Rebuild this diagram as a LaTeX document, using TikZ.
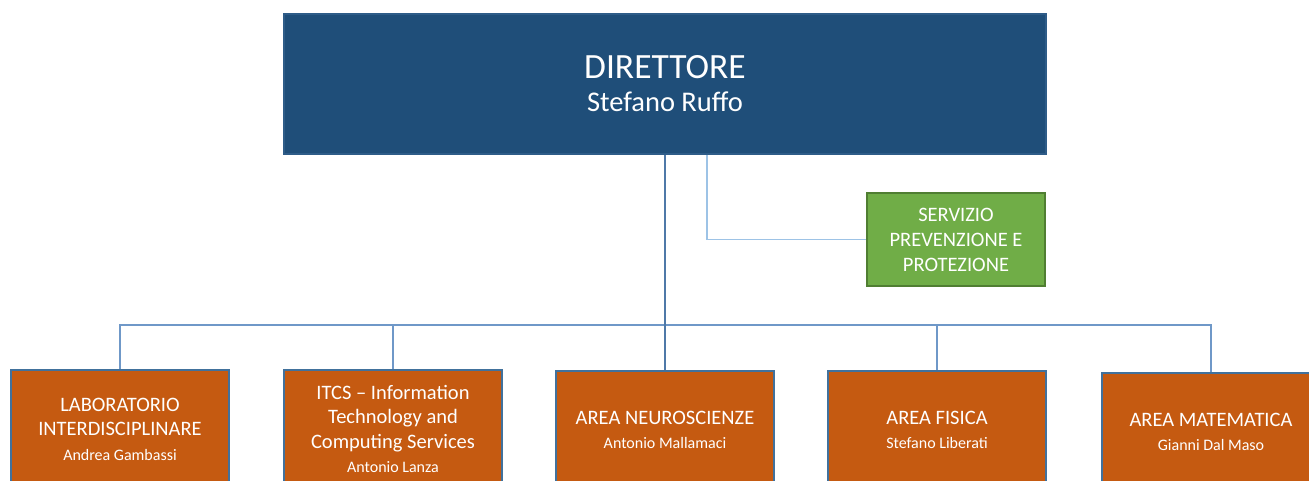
\documentclass[tikz,border=0pt]{standalone}
\usepackage{fontspec}
\setmainfont{Carlito}
\definecolor{dirblue}{HTML}{1F4E79}
\definecolor{dirline}{HTML}{2E5C88}
\definecolor{spgreen}{HTML}{70AD47}
\definecolor{spline}{HTML}{507E32}
\definecolor{orng}{HTML}{C55A11}
\definecolor{orline}{HTML}{41719C}
\definecolor{trunk}{HTML}{4F79A8}
\definecolor{busc}{HTML}{6F98C8}
\definecolor{light}{HTML}{9DC3E6}
\tikzset{
  dirbox/.style={draw=dirline, line width=2pt, fill=dirblue, text=white, minimum width=762pt, minimum height=140pt, align=center, inner sep=0pt},
  spbox/.style={draw=spline, line width=1.8pt, fill=spgreen, text=white, minimum width=178pt, minimum height=93pt, align=center, inner sep=0pt, font=\fontsize{20.5}{25}\selectfont},
  unitbox/.style={draw=orline, line width=1.8pt, fill=orng, text=white, minimum width=218pt, minimum height=118pt, align=center, inner sep=0pt, font=\fontsize{20.5}{24.5}\selectfont},
  conn/.style={line width=1.2pt},
}
\newcommand{\pname}[1]{{\fontsize{16}{21}\selectfont #1}}
\begin{document}
\begin{tikzpicture}[x=1pt,y=-1pt]
\useasboundingbox (0,0) rectangle (1309,481);
\clip (0,0) rectangle (1309,481);
\node[dirbox] (dir) at (665,84) {{\fontsize{35.5}{38}\selectfont DIRETTORE}\\[12pt]{\fontsize{28.5}{32}\selectfont Stefano Ruffo}};
\node[spbox] (spp) at (956,239.5) {SERVIZIO\\PREVENZIONE E\\PROTEZIONE};
\node[unitbox] (n1) at (120,429) {LABORATORIO\\INTERDISCIPLINARE\\\pname{Andrea Gambassi}};
\node[unitbox] (n2) at (393,429) {ITCS -- Information\\Technology and\\Computing Services\\\pname{Antonio Lanza}};
\node[unitbox] (n3) at (665,430) {AREA NEUROSCIENZE\\\pname{Antonio Mallamaci}};
\node[unitbox] (n4) at (937,430) {AREA FISICA\\\pname{Stefano Liberati}};
\node[unitbox] (n5) at (1211,432) {AREA MATEMATICA\\\pname{Gianni Dal Maso}};
\coordinate (bus) at (665,325);
\coordinate (tap) at ([xshift=42pt]dir.south);
\draw[conn, light] (tap) |- (spp.west);
\draw[conn, busc] (n1.north) |- (bus) -| (n5.north);
\draw[conn, busc] (n2.north) -- (n2.north |- bus);
\draw[conn, busc] (n4.north) -- (n4.north |- bus);
\draw[conn, trunk] (dir.south) -- (n3.north);
\end{tikzpicture}
\end{document}
